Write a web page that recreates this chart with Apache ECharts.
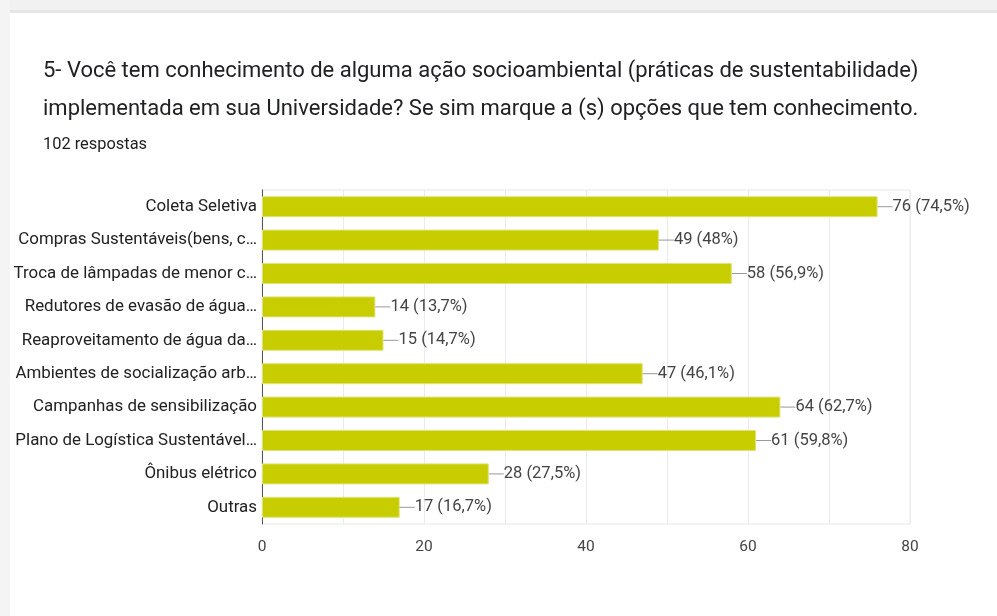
<!DOCTYPE html>
<html><head><meta charset="utf-8">
<script src="https://cdn.jsdelivr.net/npm/echarts@6/dist/echarts.min.js"></script>
<style>html,body{margin:0;padding:0;background:#fff}#c{width:997px;height:616px}</style>
</head><body><div id="c"></div>
<script>
const categories = [
  "Coleta Seletiva",
  "Compras Sustentáveis(bens, c…",
  "Troca de lâmpadas de menor c…",
  "Redutores de evasão de água…",
  "Reaproveitamento de água da…",
  "Ambientes de socialização arb…",
  "Campanhas de sensibilização",
  "Plano de Logística Sustentável…",
  "Ônibus elétrico",
  "Outras"
];
const counts = [76, 49, 58, 14, 15, 47, 64, 61, 28, 17];
const percents = ["74,5%", "48%", "56,9%", "13,7%", "14,7%", "46,1%", "62,7%", "59,8%", "27,5%", "16,7%"];
const xTicks = [0, 20, 40, 60, 80];
const titleLine1 = "5- Você tem conhecimento de alguma ação socioambiental (práticas de sustentabilidade)";
const titleLine2 = "implementada em sua Universidade? Se sim marque a (s) opções que tem conhecimento.";
const subtitle = "102 respostas";

const chart = echarts.init(document.getElementById('c'));
const F = 'Roboto, "Noto Sans", Arial, sans-serif';
chart.setOption({
  backgroundColor: '#ffffff',
  animation: false,
  graphic: [
    {type:'rect', shape:{x:0,y:0,width:997,height:13}, style:{fill:'#f1f1f1'}, z:-10},
    {type:'rect', shape:{x:0,y:0,width:10,height:616}, style:{fill:'#f4f4f4'}, z:-10},
    {type:'rect', shape:{x:10,y:10,width:987,height:3}, style:{fill:'#e6e6e6'}, z:-9},
    {type:'text', left:43, top:60, style:{text:titleLine1, font:'22px ' + F, fill:'#202124'}},
    {type:'text', left:43, top:98, style:{text:titleLine2, font:'22px ' + F, fill:'#202124'}},
    {type:'text', left:43, top:137, style:{text:subtitle, font:'16.4px ' + F, fill:'#202124'}}
  ],
  grid: {left:262, right:87, top:190, bottom:92, containLabel:false,
    show:true, borderColor:'#e8e8e8', borderWidth:1, backgroundColor:'transparent'},
  xAxis: {
    type:'value', min:0, max:80, interval:20,
    axisLine:{show:false}, axisTick:{show:false},
    axisLabel:{color:'#444', fontSize:15.5, fontFamily:F, margin:15,
      formatter: v => xTicks.includes(v) ? String(v) : ''},
    splitLine:{show:true, lineStyle:{color:'#ebebeb', width:1}},
    minorTick:{show:false, splitNumber:2},
    minorSplitLine:{show:true, lineStyle:{color:'#ebebeb', width:1}}
  },
  yAxis: {
    type:'category', data:categories, inverse:true,
    axisLine:{show:true, lineStyle:{color:'#555', width:1}},
    axisTick:{show:false},
    axisLabel:{color:'#222', fontSize:16.9, fontFamily:F, margin:5}
  },
  series: [{
    type:'bar', data:counts, barWidth:21,
    itemStyle:{color:'#c8cd00', borderColor:'#dfe37a', borderWidth:1},
    label:{
      show:true, position:'right', distance:0,
      formatter: p => '{d|}{t|' + counts[p.dataIndex] + ' (' + percents[p.dataIndex] + ')}',
      rich:{
        d:{width:15, height:1, backgroundColor:'#999', fontSize:1},
        t:{color:'#444', fontSize:16.5, fontFamily:F}
      }
    }
  }]
});
</script></body></html>
